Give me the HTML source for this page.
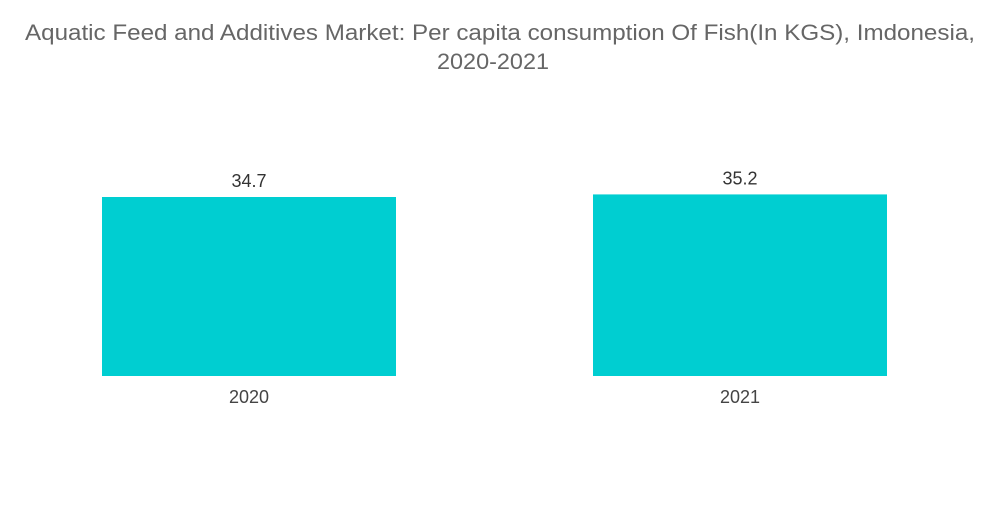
<!DOCTYPE html>
<html><head><meta charset="utf-8"><style>
body{margin:0;background:#fff;width:1000px;height:504px;overflow:hidden;font-family:"Liberation Sans",sans-serif}
</style></head><body>
<svg width="1000" height="504">
<text x="500" y="40" text-anchor="middle" font-size="22" fill="#666" textLength="950" lengthAdjust="spacingAndGlyphs">Aquatic Feed and Additives Market: Per capita consumption Of Fish(In KGS), Imdonesia,</text>
<text x="493" y="69" text-anchor="middle" font-size="22" fill="#666" textLength="112" lengthAdjust="spacingAndGlyphs">2020-2021</text>
<g id="bars"></g>
</svg>
<script>
const categories=["2020","2021"];
const values=[34.7,35.2];
const labels=["34.7","35.2"];
const base=376, scale=179/34.7;
const xs=i=>102+i*491, bw=294;
const g=document.getElementById('bars');
const ns="http://www.w3.org/2000/svg";
categories.forEach((c,i)=>{
  const h=values[i]*scale;
  const r=document.createElementNS(ns,'rect');
  r.setAttribute('x',xs(i));r.setAttribute('y',base-h);r.setAttribute('width',bw);r.setAttribute('height',h);r.setAttribute('fill','#00ced1');
  
  
  g.appendChild(r);
  const t=document.createElementNS(ns,'text');
  t.setAttribute('x',xs(i)+bw/2);t.setAttribute('y',base-h-10);t.setAttribute('text-anchor','middle');t.setAttribute('font-size','18');t.setAttribute('fill','#333');
  t.textContent=labels[i];
  
  
  g.appendChild(t);
  const l=document.createElementNS(ns,'text');
  l.setAttribute('x',xs(i)+bw/2);l.setAttribute('y',403);l.setAttribute('text-anchor','middle');l.setAttribute('font-size','18');l.setAttribute('fill','#444');
  l.textContent=c;
  
  
  g.appendChild(l);
});
</script>
</body></html>
